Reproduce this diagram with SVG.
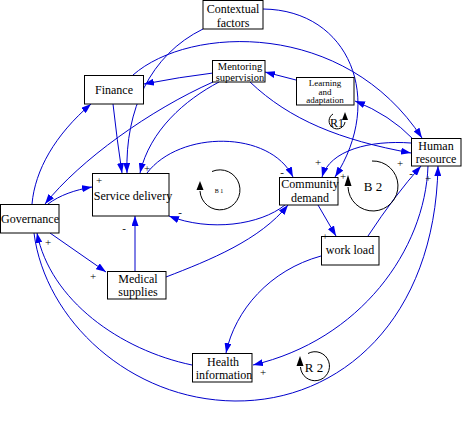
<svg xmlns="http://www.w3.org/2000/svg" width="462" height="421" viewBox="0 0 462 421">
<defs>
<marker id="ah" markerUnits="userSpaceOnUse" markerWidth="10" markerHeight="7" refX="10" refY="3.5" orient="auto">
<path d="M0,0 L10,3.5 L0,7 z" fill="#0000ee"/>
</marker>
</defs>
<style>
.box{fill:#fff;stroke:#000;stroke-width:1}
.t{font-family:"Liberation Serif","Times New Roman",serif;font-size:12px;fill:#000;text-anchor:middle}
.s{font-family:"Liberation Serif","Times New Roman",serif;font-size:10.5px;fill:#000;text-anchor:middle}
.p{font-family:"Liberation Serif","Times New Roman",serif;font-size:11px;fill:#000;text-anchor:middle}
.c{fill:none;stroke:#0000cc;stroke-width:1;marker-end:url(#ah)}
.loop{fill:none;stroke:#000;stroke-width:1}
</style>
<rect width="462" height="421" fill="#fff"/>
<g id="connectors">
<path class="c" d="M203,29 C150,55 125,110 127,173"/>
<path class="c" d="M113,104 Q117,140 122,173"/>
<path class="c" d="M219,82 C185,100 150,130 140,173"/>
<path class="c" d="M213,82 C150,110 80,160 45,204"/>
<path class="c" d="M213,73 Q180,77 144,84"/>
<path class="c" d="M296,80 L265,72"/>
<path class="c" d="M413,139 Q390,115 355,101"/>
<path class="c" d="M133,75 C190,25 345,20 422,138"/>
<path class="c" d="M263,9 C350,10 385,100 335,177"/>
<path class="c" d="M411,143 C370,140 330,150 322,177"/>
<path class="c" d="M250,82 C290,120 340,140 411,153"/>
<path class="c" d="M147,173 C180,130 270,130 293,177"/>
<path class="c" d="M285,205 C260,225 210,232 169,216"/>
<path class="c" d="M166,277 C210,260 260,240 288,205"/>
<path class="c" d="M135,271 L135,216"/>
<path class="c" d="M50,233 L106,272"/>
<path class="c" d="M48,204 C60,195 75,190 92,187"/>
<path class="c" d="M32,204 C35,170 55,135 91,104"/>
<path class="c" d="M321,256 C270,270 235,310 226,353"/>
<path class="c" d="M368,236 Q395,195 421,166"/>
<path class="c" d="M428,166 C425,250 360,340 253,365"/>
<path class="c" d="M34,233 C45,320 130,400 235,401 C340,402 435,320 438,166"/>
<path class="c" d="M192,365 C120,350 50,300 37,233"/>
<path class="c" d="M318,205 L336,236"/>
</g>
<g id="n-contextual"><rect class="box" x="203" y="0.5" width="60" height="28.5"/><text class="t" x="233" y="13">Contextual</text><text class="t" x="233" y="27">factors</text></g>
<g id="n-mentoring"><rect class="box" x="212.5" y="60.5" width="52.5" height="21.5"/><text class="s" x="240" y="70">Mentoring</text><text class="s" x="240" y="80.5">supervision</text></g>
<g id="n-finance"><rect class="box" x="84.5" y="75.5" width="59" height="28.5"/><text class="t" x="114" y="94">Finance</text></g>
<g id="n-learning"><rect class="box" x="296.5" y="77.5" width="57.5" height="27.5"/><text class="s" x="325" y="85.5" style="font-size:9px">Learning</text><text class="s" x="325" y="94.5" style="font-size:9px">and</text><text class="s" x="325" y="103" style="font-size:9px">adaptation</text></g>
<g id="n-human"><rect class="box" x="411.5" y="138.5" width="49.5" height="27.5"/><text class="t" x="436" y="150">Human</text><text class="t" x="436" y="163">resource</text></g>
<g id="n-service"><rect class="box" x="92.5" y="173.5" width="76.5" height="42.5"/><text class="t" x="133" y="200">Service delivery</text><text class="p" x="99" y="184">+</text></g>
<g id="n-governance"><rect class="box" x="0.5" y="204.5" width="58.5" height="28.5"/><text class="t" x="30" y="223">Governance</text></g>
<g id="n-community"><rect class="box" x="279.5" y="177.5" width="58.5" height="27.5"/><text class="t" x="310" y="188">Community</text><text class="t" x="310" y="202">demand</text></g>
<g id="n-workload"><rect class="box" x="321.5" y="236.5" width="57.5" height="28.5"/><text class="t" x="350" y="254">work load</text></g>
<g id="n-medical"><rect class="box" x="107.5" y="271.5" width="58.5" height="27.5"/><text class="t" x="138" y="283">Medical</text><text class="t" x="138" y="296">supplies</text></g>
<g id="n-health"><rect class="box" x="192.5" y="353.5" width="59.5" height="28.5"/><text class="t" x="223" y="366">Health</text><text class="t" x="224" y="379">information</text></g>
<g id="loops">
<path class="loop" d="M212,171.5 A20,20 0 1 1 200,191"/>
<path d="M200,181 L203.5,190 L196.5,190 z" fill="#000"/>
<text x="219" y="193" style="font-family:'Liberation Serif',serif;font-size:6px;text-anchor:middle">B 1</text>
<path class="loop" d="M372,161 A25,25 0 1 1 348,187"/>
<path d="M348,175 L351.5,186 L344.5,186 z" fill="#000"/>
<text class="t" x="373" y="191" style="font-size:13px">B 2</text>
<path class="loop" d="M333,114 A8,8 0 1 0 345,122"/>
<path d="M345,112 L348,120 L342,120 z" fill="#000"/>
<text class="t" x="337" y="127">R1</text>
<path class="loop" d="M308,353.5 A14.5,14.5 0 1 1 300.5,367"/>
<path d="M300,356 L303.5,366 L296.5,366 z" fill="#000"/>
<text class="t" x="314" y="372" style="font-size:13px">R 2</text>
</g>
<g id="polarity">
<text class="p" x="147" y="172">+</text>
<text class="p" x="180" y="216">-</text>
<text class="p" x="124" y="232">-</text>
<text class="p" x="48" y="246">+</text>
<text class="p" x="93" y="280">+</text>
<text class="p" x="318" y="166">+</text>
<text class="p" x="282" y="176">-</text>
<text class="p" x="343" y="180">+</text>
<text class="p" x="400" y="167">+</text>
<text class="p" x="411" y="177">-</text>
<text class="p" x="428" y="182">+</text>
<text class="p" x="325" y="240">+</text>
<text class="p" x="263" y="376">+</text>
</g>
</svg>
